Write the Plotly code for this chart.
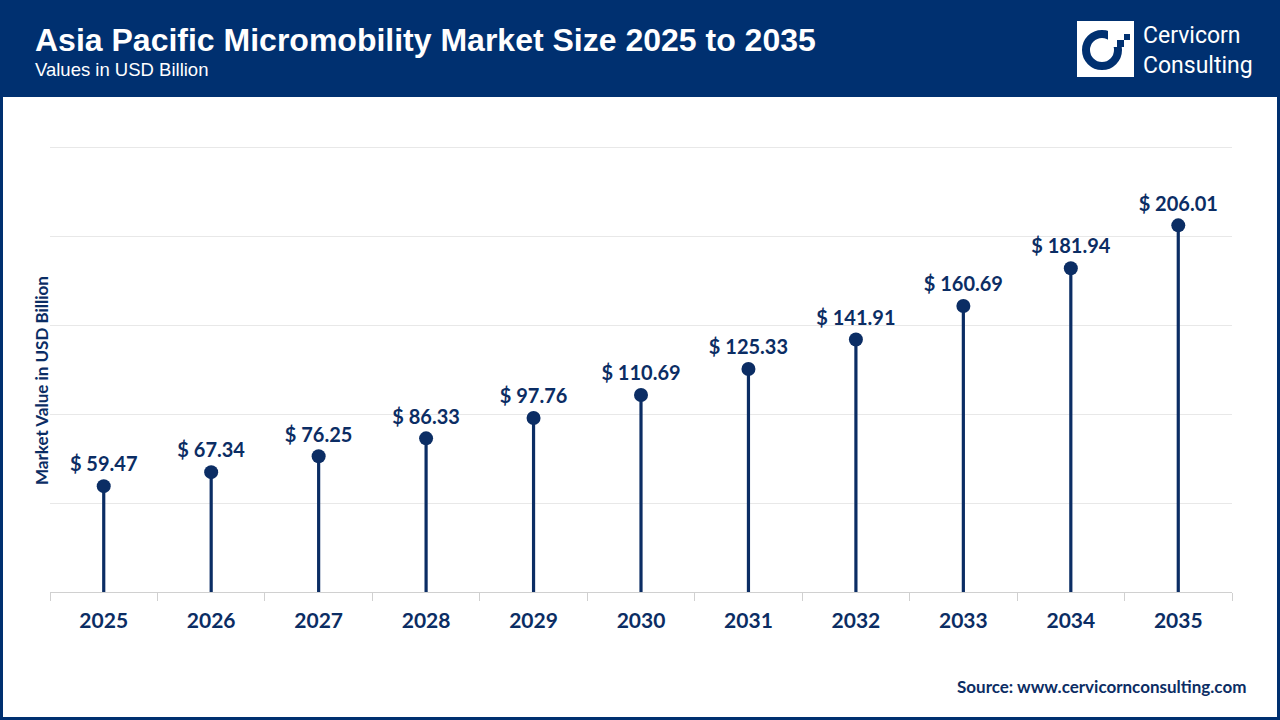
import plotly.graph_objects as go

years = ["2025", "2026", "2027", "2028", "2029", "2030", "2031", "2032", "2033", "2034", "2035"]
values = [59.47, 67.34, 76.25, 86.33, 97.76, 110.69, 125.33, 141.91, 160.69, 181.94, 206.01]
labels = [f"$ {v:.2f}" for v in values]

NAVY = "#0b2d64"
HEADER = "#003070"

W, H = 1280, 720
L, R, T, B = 50, 1232, 146, 592  # plot area in pixels
YMAX = 250.6


def px(x):
    return (x - L) / (R - L)


def py(y):
    return (B - y) / (B - T)


stem_x, stem_y = [], []
for yr, v in zip(years, values):
    stem_x += [yr, yr, None]
    stem_y += [0, v, None]

fig = go.Figure()
fig.add_trace(go.Scatter(x=stem_x, y=stem_y, mode="lines",
                         line=dict(color=NAVY, width=3.2), hoverinfo="skip", showlegend=False))
fig.add_trace(go.Scatter(x=years, y=values, mode="markers+text", text=labels,
                         textposition="top center",
                         textfont=dict(family="Lato", size=20, color=NAVY, weight="bold"),
                         marker=dict(color=NAVY, size=14), showlegend=False, cliponaxis=False))

shapes = [
    dict(type="rect", xref="paper", yref="paper", x0=px(0), x1=px(W), y0=py(97), y1=py(0),
         fillcolor=HEADER, line=dict(width=0), layer="below"),
    dict(type="rect", xref="paper", yref="paper", x0=px(1.5), x1=px(W - 1.5), y0=py(H - 1.5), y1=py(1.5),
         fillcolor="rgba(0,0,0,0)", line=dict(color=HEADER, width=3)),
    dict(type="rect", xref="paper", yref="paper", x0=px(1077), x1=px(1134), y0=py(77), y1=py(21),
         fillcolor="white", line=dict(width=0)),
    dict(type="circle", xref="paper", yref="paper", x0=px(1086), x1=px(1118), y0=py(66), y1=py(34),
         fillcolor="rgba(0,0,0,0)", line=dict(color=HEADER, width=8)),
    dict(type="rect", xref="paper", yref="paper", x0=px(1108), x1=px(1126), y0=py(47), y1=py(28),
         fillcolor="white", line=dict(width=0)),
    dict(type="rect", xref="paper", yref="paper", x0=px(1117), x1=px(1124), y0=py(47), y1=py(40),
         fillcolor=HEADER, line=dict(width=0)),
    dict(type="rect", xref="paper", yref="paper", x0=px(1124), x1=px(1130), y0=py(40), y1=py(34),
         fillcolor=HEADER, line=dict(width=0)),
]

annotations = [
    dict(text="<b>Asia Pacific Micromobility Market Size 2025 to 2035</b>", xref="paper", yref="paper",
         x=px(33), y=py(40), xanchor="left", yanchor="middle", showarrow=False,
         font=dict(family="Liberation Sans", size=32, color="white")),
    dict(text="Values in USD Billion", xref="paper", yref="paper",
         x=px(33), y=py(70), xanchor="left", yanchor="middle", showarrow=False,
         font=dict(family="Liberation Sans", size=18.5, color="white")),
    dict(text="Cervicorn<br>Consulting", xref="paper", yref="paper",
         x=px(1141), y=py(51), xanchor="left", yanchor="middle", align="left", showarrow=False,
         font=dict(family="Roboto", size=23, color="white")),
    dict(text="<b>Market Value in USD Billion</b>", xref="paper", yref="paper",
         x=px(41), y=py(381), xanchor="center", yanchor="middle", textangle=-90, showarrow=False,
         font=dict(family="Lato", size=17, color=NAVY)),
    dict(text="<b>Source: www.cervicornconsulting.com</b>", xref="paper", yref="paper",
         x=px(1248), y=py(686), xanchor="right", yanchor="middle", showarrow=False,
         font=dict(family="Lato", size=17, color=NAVY)),
]

fig.update_layout(
    width=W, height=H,
    margin=dict(l=L, r=W - R, t=T, b=H - B),
    paper_bgcolor="white", plot_bgcolor="white",
    shapes=shapes, annotations=annotations,
    xaxis=dict(type="category", range=[-0.5, len(years) - 0.5], tickson="boundaries", ticks="outside",
               ticklen=8, tickcolor="#d0d0d0",
               showline=True, linecolor="#d0d0d0", linewidth=1, showgrid=False,
               ticklabelstandoff=10,
               tickfont=dict(family="Lato", size=21, color=NAVY, weight="bold"), fixedrange=True),
    yaxis=dict(range=[0, YMAX], dtick=50, showticklabels=False, showgrid=True, gridcolor="#e8e8e8",
               zeroline=False, fixedrange=True),
)

fig.write_html("out.html", config={"displayModeBar": False},
               post_script="document.body.style.margin='0px';document.body.style.overflow='hidden';")
